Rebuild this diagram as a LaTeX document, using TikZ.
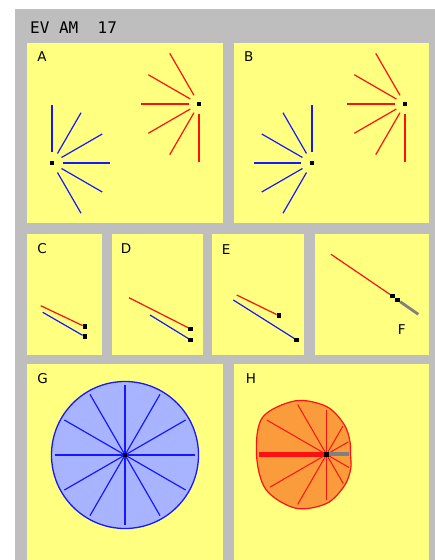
\documentclass[tikz,border=0pt]{standalone}
\usepackage{fontspec}
\newfontfamily\monofont{DejaVu Sans Mono}
\newfontfamily\labfont{DejaVu Sans}
\definecolor{paneyellow}{RGB}{255,255,128}
\definecolor{framegray}{RGB}{190,190,190}
\definecolor{rayblue}{RGB}{24,24,255}
\definecolor{rayred}{RGB}{255,16,16}
\definecolor{discblue}{RGB}{168,180,255}
\definecolor{discorange}{RGB}{250,155,60}
\definecolor{lngray}{RGB}{128,128,128}
\begin{document}
\begin{tikzpicture}[x=1pt,y=1pt,
    panel/.style={fill=paneyellow},
    dot/.style={rectangle,fill=black,inner sep=0pt,minimum size=4.5pt},
    bray/.style={rayblue,line width=1.2pt},
    rray/.style={rayred,line width=1.2pt},
    grayln/.style={lngray,line width=2.8pt},
    gdisc/.style={draw=rayblue,fill=discblue,line width=1.3pt},
    hdisc/.style={draw=rayred,fill=discorange,line width=1.2pt},
    ttl/.style={font=\monofont\fontsize{16}{18}\selectfont,inner sep=0pt,anchor=base west},
    lab/.style={font=\labfont\fontsize{13.5}{15}\selectfont,inner sep=0pt,anchor=base west}]
  \useasboundingbox (0,0) rectangle (435,560);
  % gray frame and title
  \fill[white] (0,0) rectangle (435,560);
  \fill[framegray] (15,0) rectangle (435,551);
  \node[ttl] (title) at (30,526.7) {EV AM\ \ 17};
  % the eight panels
  \foreach \x/\y/\X/\Y in {27/337/223/517, 234/337/429/517,
      27/205/102/326, 112/205/203/326, 212/205/304/326, 315/205/429/326,
      27/0/223/196, 234/0/429/196}
    \fill[panel] (\x,\y) rectangle (\X,\Y);
  \foreach \t/\x/\y in {A/37.3/498.3, B/244/498.3, C/37.3/306, D/120.7/306,
      E/221.7/305, F/397.7/225, G/37.3/176.7, H/245.7/176}
    \node[lab] (lab\t) at (\x,\y) {\t};
  % A and B: two fans of rays
  \node[dot] (bA) at (52,397) {};
  \node[dot] (rA) at (199,456) {};
  \node[dot] (bB) at (312,397) {};
  \node[dot] (rB) at (405,456) {};
  \foreach \a in {-60,-30,...,90}
    \draw[bray] (bA) ++(\a:11) -- ++(\a:47);
  \foreach \a in {90,120,...,240}
    \draw[bray] (bB) ++(\a:11) -- ++(\a:47);
  \foreach \a in {120,150,...,270}{
    \draw[rray] (rA) ++(\a:10) -- ++(\a:48.5);
    \draw[rray] (rB) ++(\a:10) -- ++(\a:48.5);
  }
  % C, D, E: pairs of segments
  \foreach \s/\rx/\ry/\rX/\rY/\bx/\by/\bX/\bY in {
      C/40.7/254.3/85/233.3/42.7/247.7/85/223.3,
      D/129/262.3/190.7/231/150/245/190.7/220,
      E/236.7/265/279/244.3/233.3/260/296.7/220}{
    \node[dot] (r\s) at (\rX,\rY) {};
    \node[dot] (b\s) at (\bX,\bY) {};
    \coordinate (r\s0) at (\rx,\ry);
    \coordinate (b\s0) at (\bx,\by);
    \draw[rray] (r\s0) -- (r\s);
    \draw[bray] (b\s0) -- (b\s);
  }
  % F: red and gray on one line
  \node[dot] (rF) at (392.3,264) {};
  \node[dot] (gF) at (397.7,260) {};
  \coordinate (rF0) at (331,305.7);
  \coordinate (gF0) at (418.3,245.7);
  \draw[rray] (rF0) -- (rF);
  \draw[grayln] (gF) -- (gF0);
  % G: blue wheel
  \coordinate (gc) at (125,105);
  \draw[gdisc] (gc) circle[radius=73.5];
  \foreach \a in {0,30,...,330}
    \draw[bray] (gc) -- ++(\a:70);
  \node[dot] (gdot) at (gc) {};
  % H: orange lobe
  \coordinate (hc) at (326.5,105.5);
  \draw[hdisc,shift={(hc)}] plot[smooth cycle,tension=0.55] coordinates {
      (0:24) (30:27) (60:35) (90:48) (120:62) (150:74)
      (180:70) (210:70) (240:62) (270:49) (300:36) (330:28)};
  \foreach \a/\r in {30/27,60/35,90/48,120/62,150/74,210/70,240/62,
      270/49,300/36,330/28}
    \draw[rray,line width=1pt] (hc) -- ++(\a:{0.93*\r});
  \draw[rray,line width=5pt] (hc) -- ++(180:68);
  \draw[grayln,line width=4pt] (hc) -- ++(0:22);
  \node[dot] (hdot) at (hc) {};
\end{tikzpicture}
\end{document}
